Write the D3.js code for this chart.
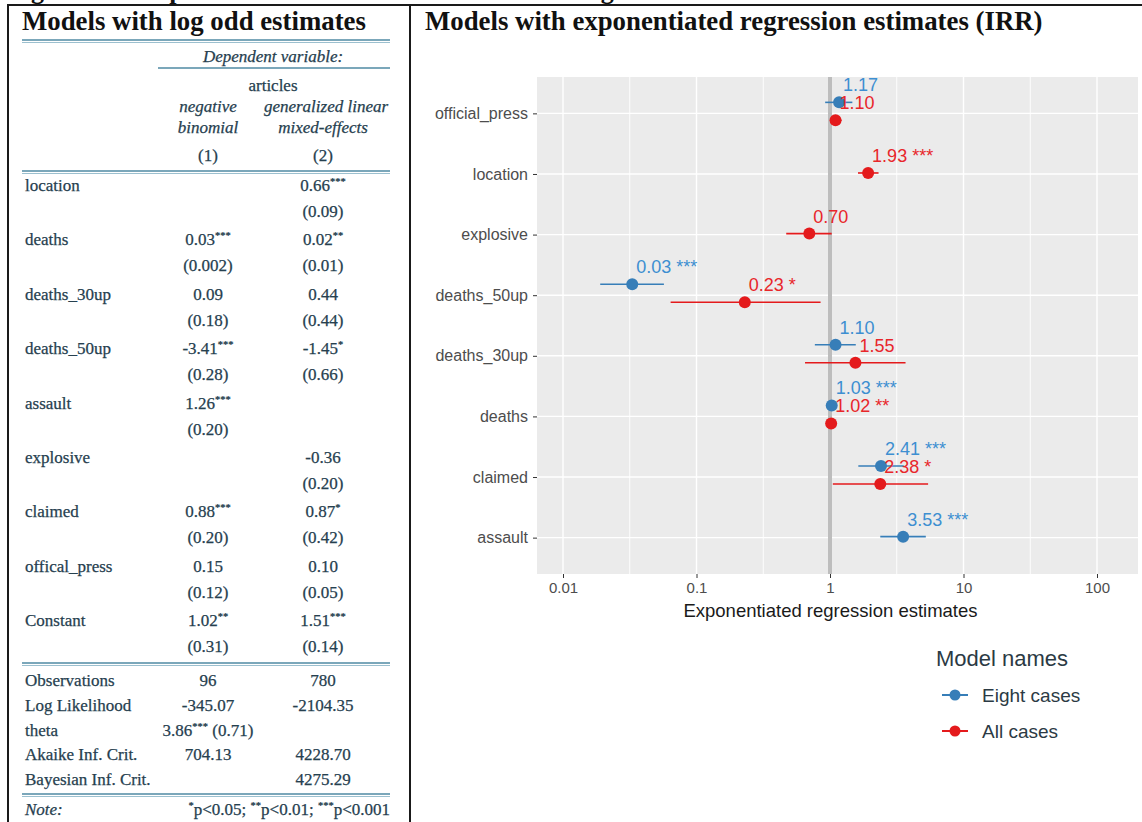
<!DOCTYPE html>
<html>
<head>
<meta charset="utf-8">
<script src="https://cdn.jsdelivr.net/npm/d3@7"></script>
<style>
  body { margin: 0; background: #fff; }
  svg { display: block; }
</style>
</head>
<body>
<svg id="Viz" width="1142" height="822"></svg>
<script>
// ---- left table (log odds) ----
var tableVars = ["location", "deaths", "deaths_30up", "deaths_50up", "assault", "explosive", "claimed", "offical_press", "Constant"];
var coef1  = [null, "0.03", "0.09", "-3.41", "1.26", null, "0.88", "0.15", "1.02"];
var stars1 = ["", "***", "", "***", "***", "", "***", "", "**"];
var se1    = [null, "(0.002)", "(0.18)", "(0.28)", "(0.20)", null, "(0.20)", "(0.12)", "(0.31)"];
var coef2  = ["0.66", "0.02", "0.44", "-1.45", null, "-0.36", "0.87", "0.10", "1.51"];
var stars2 = ["***", "**", "", "*", "", "", "*", "", "***"];
var se2    = ["(0.09)", "(0.01)", "(0.44)", "(0.66)", null, "(0.20)", "(0.42)", "(0.05)", "(0.14)"];

var statNames = ["Observations", "Log Likelihood", "theta", "Akaike Inf. Crit.", "Bayesian Inf. Crit."];
var stat1 = ["96", "-345.07", "3.86", "704.13", ""];
var stat1stars = ["", "", "***", "", ""];
var stat1extra = ["", "", " (0.71)", "", ""];
var stat2 = ["780", "-2104.35", "", "4228.70", "4275.29"];

// ---- right plot (IRR) ----
var terms = ["official_press", "location", "explosive", "deaths_50up", "deaths_30up", "deaths", "claimed", "assault"];
var modelNames = ["Eight cases", "All cases"];

var eightTerm  = ["official_press", "deaths_50up", "deaths_30up", "deaths", "claimed", "assault"];
var eightEst   = [1.17, 0.033, 1.10, 1.03, 2.41, 3.53];
var eightLo    = [0.92, 0.019, 0.77, 1.026, 1.63, 2.38];
var eightHi    = [1.47, 0.057, 1.56, 1.034, 3.57, 5.22];
var eightLabel = ["1.17", "0.03 ***", "1.10", "1.03 ***", "2.41 ***", "3.53 ***"];

var allTerm  = ["official_press", "location", "explosive", "deaths_50up", "deaths_30up", "deaths", "claimed"];
var allEst   = [1.10, 1.93, 0.70, 0.23, 1.55, 1.02, 2.38];
var allLo    = [1.00, 1.62, 0.47, 0.064, 0.65, 1.00, 1.05];
var allHi    = [1.22, 2.31, 1.03, 0.85, 3.68, 1.04, 5.43];
var allLabel = ["1.10", "1.93 ***", "0.70", "0.23 *", "1.55", "1.02 **", "2.38 *"];

var xTicks = [0.01, 0.1, 1, 10, 100];
var xTickLabels = ["0.01", "0.1", "1", "10", "100"];

var colors = {"Eight cases": "#377EB8", "All cases": "#E41A1C"};

var svg = d3.select("#Viz");

// clipped caption above the frame (only descenders show, as in the scan)
svg.append("text")
  .attr("x", 8).attr("y", -1)
  .attr("font-family", "Liberation Serif, Times New Roman, serif")
  .attr("font-weight", "bold").attr("font-size", 26).attr("fill", "#111")
  .text("Figure 2: Comparison of the model results between log odds and IRR");

// frame
svg.append("line").attr("x1", 7).attr("x2", 1142).attr("y1", 5).attr("y2", 5)
  .attr("stroke", "#1a1a1a").attr("stroke-width", 2.2);
svg.append("line").attr("x1", 8).attr("x2", 8).attr("y1", 4).attr("y2", 822)
  .attr("stroke", "#1a1a1a").attr("stroke-width", 2);
svg.append("line").attr("x1", 410).attr("x2", 410).attr("y1", 4).attr("y2", 822)
  .attr("stroke", "#1a1a1a").attr("stroke-width", 2);

var titleFont = "Liberation Serif, Times New Roman, serif";
svg.append("text").attr("x", 22).attr("y", 30)
  .attr("font-family", titleFont).attr("font-weight", "bold").attr("font-size", 26.8).attr("fill", "#111")
  .text("Models with log odd estimates");
svg.append("text").attr("x", 425).attr("y", 30)
  .attr("font-family", titleFont).attr("font-weight", "bold").attr("font-size", 26.8).attr("fill", "#111")
  .text("Models with exponentiated regression estimates (IRR)");

// ================= table =================
var tab = svg.append("g")
  .attr("font-family", titleFont).attr("font-size", 17).attr("fill", "#26404f")
  .attr("stroke", "#26404f").attr("stroke-width", 0.25);
var c1 = 208, c2 = 323, tl = 22, tr = 390;

function rule(y, x0, x1, dbl) {
  tab.append("line").attr("x1", x0).attr("x2", x1).attr("y1", y).attr("y2", y)
    .attr("stroke", "#4f8aa3").attr("stroke-width", 1.3);
  if (dbl) tab.append("line").attr("x1", x0).attr("x2", x1).attr("y1", y + 2.5).attr("y2", y + 2.5)
    .attr("stroke", "#9cc0cf").attr("stroke-width", 1);
}
rule(40, tl, tr, true);
rule(68, 158, tr, false);
rule(171, tl, tr, true);
rule(663, tl, tr, true);
rule(794, tl, tr, true);

function ctext(x, y, s, italic, anchor) {
  return tab.append("text").attr("x", x).attr("y", y)
    .attr("text-anchor", anchor || "middle")
    .attr("font-style", italic ? "italic" : null)
    .text(s);
}
ctext(273, 62, "Dependent variable:", true);
ctext(273, 91, "articles");
ctext(c1, 112, "negative", true);
ctext(326, 112, "generalized linear", true);
ctext(c1, 133, "binomial", true);
ctext(323, 133, "mixed-effects", true);
ctext(c1, 161, "(1)");
ctext(c2, 161, "(2)");

function coefText(x, y, num, st) {
  var t = tab.append("text").attr("x", x).attr("y", y).attr("text-anchor", "middle");
  t.append("tspan").text(num);
  if (st) t.append("tspan").attr("font-size", 10.5).attr("dy", -6).text(st);
}

var rowY = d3.scaleLinear().domain([0, tableVars.length - 1]).range([191, 626]);
tableVars.forEach(function(v, i) {
  var y = rowY(i);
  ctext(25, y, v, false, "start");
  if (coef1[i] != null) coefText(c1, y, coef1[i], stars1[i]);
  if (coef2[i] != null) coefText(c2, y, coef2[i], stars2[i]);
  if (se1[i] != null) ctext(c1, y + 26, se1[i]);
  if (se2[i] != null) ctext(c2, y + 26, se2[i]);
});

var statY = d3.scaleLinear().domain([0, statNames.length - 1]).range([686, 785]);
statNames.forEach(function(v, i) {
  var y = statY(i);
  ctext(25, y, v, false, "start");
  if (stat1[i]) {
    var t = tab.append("text").attr("x", c1).attr("y", y).attr("text-anchor", "middle");
    t.append("tspan").text(stat1[i]);
    if (stat1stars[i]) t.append("tspan").attr("font-size", 10.5).attr("dy", -6).text(stat1stars[i]);
    if (stat1extra[i]) t.append("tspan").attr("dy", 6).text(stat1extra[i]);
  }
  if (stat2[i]) ctext(c2, y, stat2[i]);
});

ctext(25, 815, "Note:", true, "start");
var note = tab.append("text").attr("x", tr).attr("y", 815).attr("text-anchor", "end");
[["*", "p<0.05; "], ["**", "p<0.01; "], ["***", "p<0.001"]].forEach(function(p) {
  note.append("tspan").attr("font-size", 10.5).attr("dy", -6).text(p[0]);
  note.append("tspan").attr("dy", 6).text(p[1]);
});

// ================= forest plot =================
var panel = {left: 537, right: 1138, top: 77, bottom: 574};
var sans = "Liberation Sans, Arial, sans-serif";

var x = d3.scaleLog().domain([0.01, 100]).range([563, 1097]);
var y = d3.scalePoint().domain(terms).range([panel.top, panel.bottom]).padding(0.6);

var plot = svg.append("g");
plot.append("rect")
  .attr("x", panel.left).attr("y", panel.top)
  .attr("width", panel.right - panel.left).attr("height", panel.bottom - panel.top)
  .attr("fill", "#EBEBEB");

var minor = [0.01, 0.1, 1, 10].map(function(d) { return d * Math.sqrt(10); });
plot.selectAll(".minor").data(minor).enter().append("line")
  .attr("x1", function(d) { return x(d); }).attr("x2", function(d) { return x(d); })
  .attr("y1", panel.top).attr("y2", panel.bottom)
  .attr("stroke", "#fff").attr("stroke-width", 0.9);
plot.selectAll(".major").data(xTicks).enter().append("line")
  .attr("x1", function(d) { return x(d); }).attr("x2", function(d) { return x(d); })
  .attr("y1", panel.top).attr("y2", panel.bottom)
  .attr("stroke", "#fff").attr("stroke-width", 1.4);
plot.selectAll(".hgrid").data(terms).enter().append("line")
  .attr("x1", panel.left).attr("x2", panel.right)
  .attr("y1", function(d) { return y(d); }).attr("y2", function(d) { return y(d); })
  .attr("stroke", "#fff").attr("stroke-width", 1.4);

// reference line at 1
plot.append("line")
  .attr("x1", x(1)).attr("x2", x(1)).attr("y1", panel.top).attr("y2", panel.bottom)
  .attr("stroke", "#bdbdbd").attr("stroke-width", 4);

// axes
var xAxis = svg.append("g").attr("transform", "translate(0," + panel.bottom + ")")
  .call(d3.axisBottom(x).tickValues(xTicks).tickFormat(function(d, i) { return xTickLabels[i]; })
    .tickSize(4).tickPadding(4));
xAxis.select(".domain").remove();
xAxis.selectAll("line").attr("stroke", "#333");
xAxis.selectAll("text").attr("font-family", sans).attr("font-size", 15).attr("fill", "#4d4d4d");

var yAxis = svg.append("g").attr("transform", "translate(" + panel.left + ",0)")
  .call(d3.axisLeft(y).tickSize(4).tickPadding(5));
yAxis.select(".domain").remove();
yAxis.selectAll("line").attr("stroke", "#333");
yAxis.selectAll("text").attr("font-family", sans).attr("font-size", 16).attr("fill", "#4d4d4d");

svg.append("text")
  .attr("x", (panel.left + panel.right) / 2 - 7).attr("y", 617)
  .attr("text-anchor", "middle").attr("font-family", sans).attr("font-size", 18.5).attr("fill", "#1a1a1a")
  .text("Exponentiated regression estimates");

// build series
function series(name, tm, est, lo, hi, lab) {
  return tm.map(function(t, i) {
    return {model: name, term: t, est: est[i], lo: lo[i], hi: hi[i], label: lab[i]};
  });
}
var eight = series("Eight cases", eightTerm, eightEst, eightLo, eightHi, eightLabel);
var all = series("All cases", allTerm, allEst, allLo, allHi, allLabel);
var rows = eight.concat(all);

function py(d) {
  var both = eightTerm.indexOf(d.term) >= 0 && allTerm.indexOf(d.term) >= 0;
  var base = y(d.term) - 1;
  if (!both) return base;
  return d.model === "Eight cases" ? base - 10 : base + 8;
}

var marks = plot.append("g");
marks.selectAll(".err").data(rows).enter().append("line")
  .attr("x1", function(d) { return x(d.lo); }).attr("x2", function(d) { return x(d.hi); })
  .attr("y1", py).attr("y2", py)
  .attr("stroke", function(d) { return colors[d.model]; }).attr("stroke-width", 1.6);
marks.selectAll(".pt").data(rows).enter().append("circle")
  .attr("cx", function(d) { return x(d.est); }).attr("cy", py).attr("r", 6)
  .attr("fill", function(d) { return colors[d.model]; });
marks.selectAll(".lab").data(rows).enter().append("text")
  .attr("x", function(d) { return x(d.est) + 4; })
  .attr("y", function(d) { return py(d) - 11; })
  .attr("font-family", sans).attr("font-size", 18)
  .attr("fill", function(d) { return d.model === "Eight cases" ? "#3d8fd1" : "#E8262A"; })
  .text(function(d) { return d.label; });

// legend
var leg = svg.append("g").attr("font-family", sans);
leg.append("text").attr("x", 936).attr("y", 666).attr("font-size", 22).attr("fill", "#2b3a44")
  .text("Model names");
modelNames.forEach(function(m, i) {
  var ly = 695 + i * 36;
  leg.append("line").attr("x1", 942).attr("x2", 968).attr("y1", ly).attr("y2", ly)
    .attr("stroke", colors[m]).attr("stroke-width", 2);
  leg.append("circle").attr("cx", 955).attr("cy", ly).attr("r", 5.5).attr("fill", colors[m]);
  leg.append("text").attr("x", 982).attr("y", ly + 7).attr("font-size", 19).attr("fill", "#2b3a44").text(m);
});
</script>
</body>
</html>
